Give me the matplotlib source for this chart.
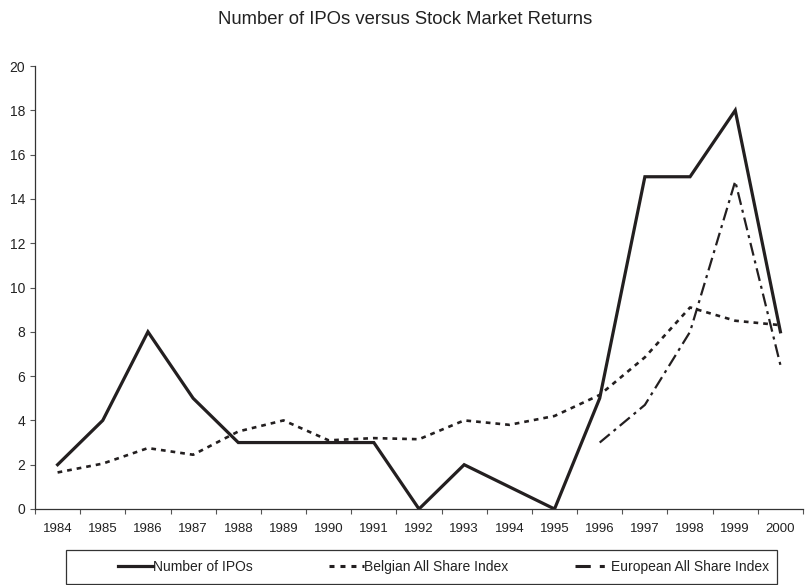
import matplotlib
matplotlib.use("Agg")
import matplotlib.pyplot as plt
from matplotlib.lines import Line2D
from matplotlib.patches import Rectangle
import numpy as np

years = ["1984", "1985", "1986", "1987", "1988", "1989", "1990", "1991", "1992",
         "1993", "1994", "1995", "1996", "1997", "1998", "1999", "2000"]
ipos = [2, 4, 8, 5, 3, 3, 3, 3, 0, 2, 1, 0, 5, 15, 15, 18, 8]
belgian = [1.65, 2.05, 2.75, 2.45, 3.5, 4.0, 3.1, 3.2, 3.15, 4.0, 3.8, 4.2,
           5.15, 6.85, 9.1, 8.5, 8.3]
euro_years = ["1996", "1997", "1998", "1999", "2000"]
european = [3.0, 4.7, 8.0, 14.8, 6.5]
yticks = [0, 2, 4, 6, 8, 10, 12, 14, 16, 18, 20]
labels = ["Number of IPOs", "Belgian All Share Index", "European All Share Index"]

plt.rcParams['font.family'] = ['Liberation Sans', 'DejaVu Sans']
plt.rcParams['lines.scale_dashes'] = False

W, H = 805, 585
fig = plt.figure(figsize=(W / 100, H / 100), dpi=100)
ax = fig.add_axes([35 / W, 1 - 509 / H, (803 - 35) / W, (509 - 66) / H])

col = '#231f20'
x = np.arange(len(years))
xe = [years.index(y) for y in euro_years]

ax.plot(x, ipos, color=col, lw=2.3, solid_joinstyle='miter')
ax.plot(x, belgian, color=col, lw=1.9, dashes=(3.4, 3.6), dash_capstyle='butt')
ax.plot(xe, european, color=col, lw=1.6, dashes=(9.4, 3.6, 2.2, 3.6))

ax.set_xlim(-0.5, len(years) - 0.5)
ax.set_ylim(0, 20)
ax.set_yticks(yticks)
ax.set_yticklabels([str(v) for v in yticks])
ax.set_xticks(x)
ax.set_xticklabels(years)
ax.set_xticks(np.arange(len(years) + 1) - 0.5, minor=True)
ax.tick_params(axis='x', which='major', length=0, pad=10, labelsize=9.5, colors='#222222')
ax.tick_params(axis='x', which='minor', length=3.5, width=0.8, direction='out', color='#555555')
ax.tick_params(axis='y', length=3.5, width=0.8, direction='out', pad=3.6, labelsize=10,
               color='#555555', labelcolor='#222222')

for s in ['top', 'right']:
    ax.spines[s].set_visible(False)
for s in ['left', 'bottom']:
    ax.spines[s].set_color('#333333')
    ax.spines[s].set_linewidth(0.9)

fig.text(405 / W, 1 - 20 / H, "Number of IPOs versus Stock Market Returns",
         ha='center', va='center', fontsize=13.3, color='#222222')

# legend frame
fig.patches.append(Rectangle((66 / W, 1 - 584 / H), (777 - 66) / W, (584 - 550) / H,
                             transform=fig.transFigure, fill=False, edgecolor='#333333',
                             lw=0.9))
handles = [Line2D([], [], color=col, lw=2.3),
           Line2D([], [], color=col, lw=2.2, dashes=(3.6, 4.3)),
           Line2D([], [], color=col, lw=2.2, dashes=(11, 6.5, 3.6, 6.5))]
starts = [118, 329, 575]
hlens = [2.5, 2.5, 2.2]
for h, lab, sx, hl in zip(handles, labels, starts, hlens):
    fig.legend([h], [lab], loc='center left', bbox_to_anchor=(sx / W, 1 - 567 / H),
               frameon=False, fontsize=10, handlelength=hl, handletextpad=0.0 if hl > 2.4 else 0.4,
               borderpad=0, borderaxespad=0, labelcolor='#222222')

fig.savefig("out.png", dpi=100)
